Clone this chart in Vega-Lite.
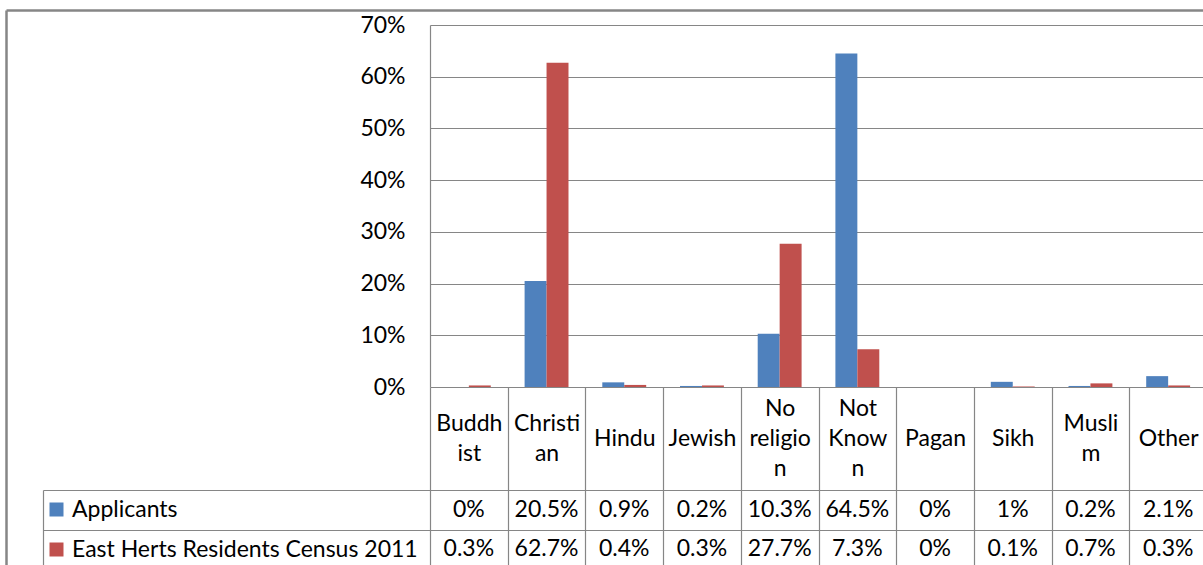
{
  "$schema": "https://vega.github.io/schema/vega-lite/v6.json",
  "autosize": {"type": "none"},
  "padding": {"left": 430, "top": 25, "right": 0, "bottom": 0},
  "width": 773,
  "height": 540,
  "background": "white",
  "config": {
    "view": {"stroke": null},
    "font": "Lato",
    "axis": {"labelFont": "Lato", "labelColor": "#000000", "titleFont": "Lato", "labelLimit": 0},
    "legend": {"labelFont": "Lato", "labelLimit": 0}
  },
  "data": {
    "values": [
      {"religion": "Buddhist", "series": "Applicants", "value": 0},
      {"religion": "Christian", "series": "Applicants", "value": 0.205},
      {"religion": "Hindu", "series": "Applicants", "value": 0.009},
      {"religion": "Jewish", "series": "Applicants", "value": 0.002},
      {"religion": "No religion", "series": "Applicants", "value": 0.103},
      {"religion": "Not Known", "series": "Applicants", "value": 0.645},
      {"religion": "Pagan", "series": "Applicants", "value": 0},
      {"religion": "Sikh", "series": "Applicants", "value": 0.01},
      {"religion": "Muslim", "series": "Applicants", "value": 0.002},
      {"religion": "Other", "series": "Applicants", "value": 0.021},
      {"religion": "Buddhist", "series": "East Herts Residents Census 2011", "value": 0.003},
      {"religion": "Christian", "series": "East Herts Residents Census 2011", "value": 0.627},
      {"religion": "Hindu", "series": "East Herts Residents Census 2011", "value": 0.004},
      {"religion": "Jewish", "series": "East Herts Residents Census 2011", "value": 0.003},
      {"religion": "No religion", "series": "East Herts Residents Census 2011", "value": 0.277},
      {"religion": "Not Known", "series": "East Herts Residents Census 2011", "value": 0.073},
      {"religion": "Pagan", "series": "East Herts Residents Census 2011", "value": 0},
      {"religion": "Sikh", "series": "East Herts Residents Census 2011", "value": 0.001},
      {"religion": "Muslim", "series": "East Herts Residents Census 2011", "value": 0.007},
      {"religion": "Other", "series": "East Herts Residents Census 2011", "value": 0.003}
    ]
  },
  "resolve": {"scale": {"x": "independent", "y": "independent"}},
  "layer": [
    {
      "mark": {"type": "bar"},
      "encoding": {
        "x": {
          "field": "religion", "type": "nominal",
          "scale": {"domain": ["Buddhist", "Christian", "Hindu", "Jewish", "No religion", "Not Known", "Pagan", "Sikh", "Muslim", "Other"], "range": [0, 777], "paddingInner": 0, "paddingOuter": 0},
          "axis": null
        },
        "xOffset": {
          "field": "series", "type": "nominal",
          "sort": ["Applicants", "East Herts Residents Census 2011"],
          "scale": {"paddingInner": 0, "paddingOuter": 0.77}
        },
        "y": {
          "field": "value", "type": "quantitative",
          "scale": {"domain": [0, 0.7], "range": [362, 0], "nice": false},
          "axis": {
            "title": null,
            "values": [0, 0.1, 0.2, 0.3, 0.4, 0.5, 0.6, 0.7],
            "format": ".0%",
            "grid": true, "gridColor": "#868686", "gridWidth": 1.2,
            "domain": true, "domainColor": "#868686", "domainWidth": 1.2,
            "ticks": false,
            "labelFontSize": 23, "labelPadding": 25
          }
        },
        "color": {
          "field": "series", "type": "nominal",
          "scale": {"domain": ["Applicants", "East Herts Residents Census 2011"], "range": ["#4F81BD", "#C0504D"]},
          "legend": {
            "orient": "none", "legendX": -385, "legendY": 473,
            "direction": "vertical", "title": null,
            "symbolType": "square", "symbolSize": 196, "symbolStrokeWidth": 0,
            "labelFontSize": 23, "labelColor": "#000000", "labelOffset": 4,
            "rowPadding": 16
          }
        }
      }
    },
    {
      "mark": {"type": "text", "fontSize": 23, "baseline": "middle", "color": "#000000"},
      "encoding": {
        "x": {
          "field": "religion", "type": "nominal",
          "scale": {"domain": ["Buddhist", "Christian", "Hindu", "Jewish", "No religion", "Not Known", "Pagan", "Sikh", "Muslim", "Other"], "range": [0, 777], "paddingInner": 0, "paddingOuter": 0},
          "axis": {
            "orient": "bottom", "offset": -178, "title": null,
            "domain": false,
            "ticks": true, "tickBand": "extent", "tickSize": 182, "tickColor": "#868686", "tickWidth": 1.2,
            "labelAngle": 0, "labelFontSize": 23, "labelLineHeight": 30,
            "labelBaseline": "middle", "labelAlign": "center",
            "labelPadding": -131,
            "labelExpr": "indexof(['Hindu', 'Jewish', 'Pagan', 'Sikh', 'Other'], datum.value) >= 0 ? datum.value : ''"
          }
        },
        "y": {
          "field": "series", "type": "nominal",
          "sort": ["Applicants", "East Herts Residents Census 2011"],
          "scale": {"range": [465, 544], "paddingInner": 0, "paddingOuter": 0},
          "axis": {
            "orient": "left", "offset": 387, "title": null,
            "labels": false,
            "domain": true, "domainColor": "#868686", "domainWidth": 1.2,
            "ticks": true, "tickBand": "extent", "tickSize": -387, "tickColor": "#868686", "tickWidth": 1.2,
            "grid": true, "gridColor": "#868686", "gridWidth": 1.2
          }
        },
        "text": {"field": "value", "type": "quantitative", "format": ".1~%"}
      }
    },
    {
      "mark": {"type": "point", "opacity": 0},
      "encoding": {
        "x": {
          "field": "religion", "type": "nominal",
          "scale": {"domain": ["Buddhist", "Christian", "Hindu", "Jewish", "No religion", "Not Known", "Pagan", "Sikh", "Muslim", "Other"], "range": [0, 777], "paddingInner": 0, "paddingOuter": 0},
          "axis": {
            "orient": "bottom", "offset": -178, "title": null,
            "domain": false,
            "ticks": true, "tickSize": 179, "tickOpacity": 0,
            "labelAngle": 0, "labelFontSize": 23, "labelLineHeight": 30,
            "labelBaseline": "middle", "labelAlign": "center",
            "labelPadding": -143,
            "labelExpr": "({'Buddhist': ['Buddh', 'ist'], 'Christian': ['Christi', 'an'], 'Muslim': ['Musli', 'm']})[datum.value] || ''"
          }
        },
        "y": {"field": "series", "type": "nominal", "axis": null}
      }
    },
    {
      "mark": {"type": "point", "opacity": 0},
      "encoding": {
        "x": {
          "field": "religion", "type": "nominal",
          "scale": {"domain": ["Buddhist", "Christian", "Hindu", "Jewish", "No religion", "Not Known", "Pagan", "Sikh", "Muslim", "Other"], "range": [0, 777], "paddingInner": 0, "paddingOuter": 0},
          "axis": {
            "orient": "bottom", "offset": -178, "title": null,
            "domain": false,
            "ticks": true, "tickSize": 179, "tickOpacity": 0,
            "labelAngle": 0, "labelFontSize": 23, "labelLineHeight": 30,
            "labelBaseline": "middle", "labelAlign": "center",
            "labelPadding": -158,
            "labelExpr": "({'No religion': ['No', 'religio', 'n'], 'Not Known': ['Not', 'Know', 'n']})[datum.value] || ''"
          }
        },
        "y": {"field": "series", "type": "nominal", "axis": null}
      }
    },
    {
      "mark": {"type": "point", "opacity": 0},
      "encoding": {
        "x": {
          "field": "religion", "type": "nominal",
          "scale": {"range": [-424, 820]},
          "axis": {"orient": "top", "offset": 15, "title": null, "labels": false, "ticks": false, "grid": false, "domain": true, "domainColor": "#868686", "domainWidth": 2.5}
        },
        "y": {
          "field": "series", "type": "nominal",
          "scale": {"range": [-15, 580]},
          "axis": {"orient": "left", "offset": 424, "title": null, "labels": false, "ticks": false, "grid": false, "domain": true, "domainColor": "#868686", "domainWidth": 2.5}
        }
      }
    }
  ]
}
